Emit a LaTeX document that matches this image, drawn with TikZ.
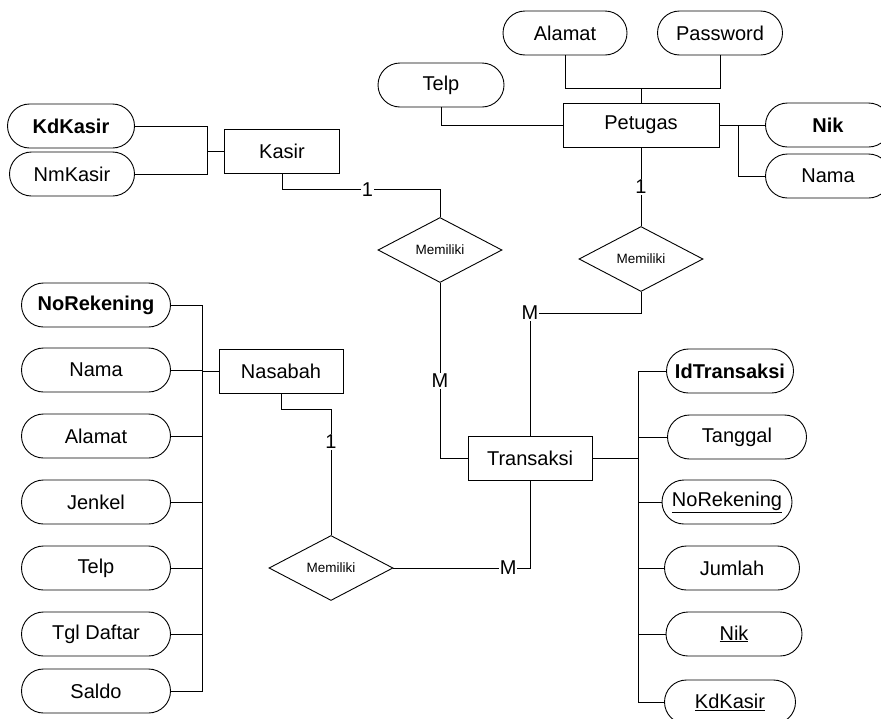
\documentclass[tikz,border=0pt]{standalone}
\usepackage{fontspec}
\setmainfont{Liberation Sans}
\usetikzlibrary{shapes.geometric, positioning}

\tikzset{
  entity/.style={draw, rectangle, minimum width=124pt, minimum height=44pt, inner sep=2pt, font=\fontsize{20}{24}\selectfont},
  attrib/.style={draw, rectangle, rounded corners=22pt, minimum height=44pt, inner sep=2pt, font=\fontsize{20}{24}\selectfont},
  relation/.style={draw, diamond, minimum width=124pt, minimum height=65pt, inner sep=0pt, font=\fontsize{13.5}{16}\selectfont},
  card/.style={fill=white, inner sep=1pt, font=\fontsize{20}{24}\selectfont},
  link/.style={line width=0.9pt}
}

\begin{document}
\begin{tikzpicture}[x=1pt, y=-1pt, line width=0.9pt]
  \useasboundingbox (0,0) rectangle (881,718);

  % entities
  \node[entity, minimum width=156pt] (petugas) at (641,125) {Petugas};
  \node[entity, minimum width=115pt] (kasir) at (282,151) {Kasir};
  \node[entity] (nasabah) at (281,371) {Nasabah};
  \node[entity] (transaksi) at (530,458) {Transaksi};

  % relations
  \node[relation] (rel1) at (440,250) {Memiliki};
  \node[relation] (rel2) at (641,259) {Memiliki};
  \node[relation] (rel3) at (331,568) {Memiliki};

  % petugas attributes
  \node[attrib, minimum width=124pt] (p_alamat) at (565,33) {Alamat};
  \node[attrib, minimum width=125pt] (p_password) at (720,33) {Password};
  \node[attrib, minimum width=126pt] (p_telp) at (441,85) {Telp};
  \node[attrib, minimum width=125pt] (p_nik) at (828,125) {\textbf{Nik}};
  \node[attrib, minimum width=125pt] (p_nama) at (828,176) {Nama};

  % kasir attributes
  \node[attrib, minimum width=127pt] (k_kd) at (71,126) {\textbf{KdKasir}};
  \node[attrib, minimum width=125pt] (k_nm) at (72,174) {NmKasir};

  % nasabah attributes
  \node[attrib, minimum width=149pt] (n_norek) at (96,305) {\textbf{NoRekening}};
  \node[attrib, minimum width=149pt] (n_nama) at (96,370) {Nama};
  \node[attrib, minimum width=149pt] (n_alamat) at (96,436) {Alamat};
  \node[attrib, minimum width=149pt] (n_jenkel) at (96,502) {Jenkel};
  \node[attrib, minimum width=149pt] (n_telp) at (96,568) {Telp};
  \node[attrib, minimum width=149pt] (n_tgl) at (96,634) {Tgl Daftar};
  \node[attrib, minimum width=149pt] (n_saldo) at (96,691) {Saldo};

  % transaksi attributes
  \node[attrib, minimum width=127pt] (t_id) at (730,371) {\textbf{IdTransaksi}};
  \node[attrib, minimum width=139pt] (t_tgl) at (737,437) {Tanggal};
  \node[attrib, minimum width=130pt] (t_norek) at (727,502) {\underline{NoRekening}};
  \node[attrib, minimum width=135pt] (t_jml) at (732,568) {Jumlah};
  \node[attrib, minimum width=136pt] (t_nik) at (734,634) {\underline{Nik}};
  \node[attrib, minimum width=131pt] (t_kd) at (730,702) {\underline{KdKasir}};

  % attribute connectors
  \coordinate (ptop) at (641,88);
  \draw (p_alamat.south) |- (ptop);
  \draw (p_password.south) |- (ptop);
  \draw (ptop) -- (petugas.north);
  \draw (p_telp.south) |- (petugas.west);
  \coordinate (pbus) at (738,125);
  \draw (petugas.east) -- (p_nik.west);
  \draw (pbus) |- (p_nama.west);

  \coordinate (kbus) at (207,151);
  \draw (k_kd.east) -| (kbus);
  \draw (k_nm.east) -| (kbus);
  \draw (kbus) -- (kasir.west);

  \coordinate (nbus) at (202,371);
  \foreach \a in {n_norek, n_nama, n_alamat, n_jenkel, n_telp, n_tgl, n_saldo}
    \draw (\a.east) -| (nbus);
  \draw (nbus) -- (nasabah.west);

  \coordinate (tbus) at (638,458);
  \foreach \a in {t_id, t_tgl, t_norek, t_jml, t_nik, t_kd}
    \draw (\a.west) -| (tbus);
  \draw (transaksi.east) -- (tbus);

  % relation connectors
  \draw (kasir.south) -- ++(0,16) -| node[card, pos=0.27] {1} (rel1.north);
  \draw (rel1.south) |- node[card, pos=0.28] {M} (transaksi.west);
  \draw (petugas.south) -- node[card] {1} (rel2.north);
  \draw (rel2.south) -- ++(0,21) -| node[card, pos=0.5] {M} (transaksi.north);
  \draw (nasabah.south) -- ++(0,16) -| node[card, pos=0.63] {1} (rel3.north);
  \draw (rel3.east) -| node[card, pos=0.42] {M} (transaksi.south);
\end{tikzpicture}
\end{document}
